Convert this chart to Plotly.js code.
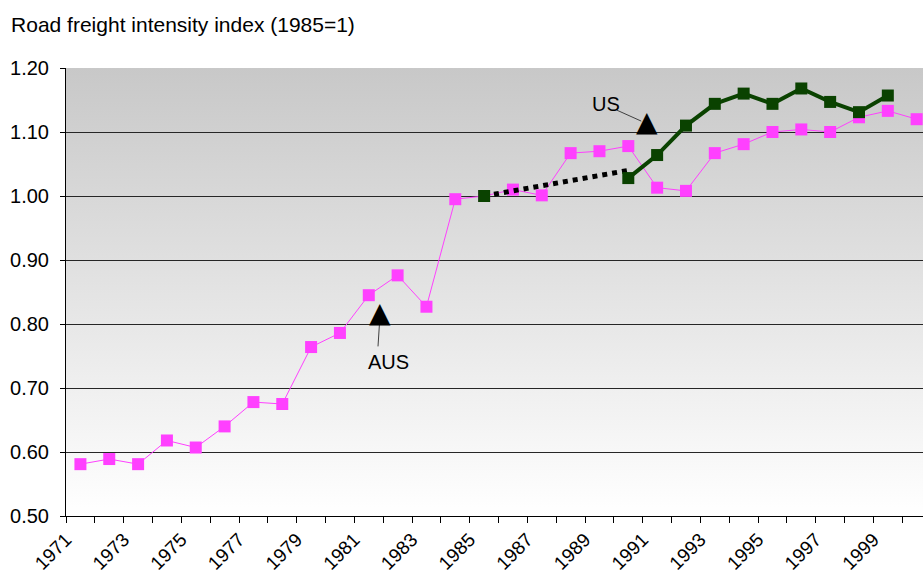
<!DOCTYPE html>
<html>
<head>
<meta charset="utf-8">
<script src="https://cdn.plot.ly/plotly-3.0.1.min.js"></script>
<style>
  html, body { margin: 0; padding: 0; background: #ffffff; }
  #chart { width: 923px; height: 577px; }
</style>
</head>
<body>
<div id="chart"></div>
<script>
// Road freight intensity index (1985=1)

const years = [1971, 1972, 1973, 1974, 1975, 1976, 1977, 1978, 1979, 1980,
               1981, 1982, 1983, 1984, 1985, 1986, 1987, 1988, 1989, 1990,
               1991, 1992, 1993, 1994, 1995, 1996, 1997, 1998, 1999, 2000];

const ausIndex = [0.581, 0.589, 0.581, 0.618, 0.607, 0.640, 0.678, 0.675, 0.764, 0.786,
                  0.845, 0.876, 0.827, 0.995, 1.000, 1.010, 1.001, 1.067, 1.070, 1.078,
                  1.013, 1.008, 1.067, 1.081, 1.100, 1.104, 1.100, 1.123, 1.133, 1.120];

// US series: 1985 base point, then 1990-1999
const usYears = [1985, 1990, 1991, 1992, 1993, 1994, 1995, 1996, 1997, 1998, 1999];
const usIndex = [1.000, 1.028, 1.064, 1.110, 1.144, 1.160, 1.144, 1.168, 1.147, 1.131, 1.157];

// dotted bridge between the 1985 base and the 1990 US figure
const bridgeYears = [1985, 1990];
const bridgeIndex = [1.000, 1.040];

const tickYears = [1971, 1973, 1975, 1977, 1979, 1981, 1983, 1985, 1987, 1989, 1991, 1993, 1995, 1997, 1999];
const tickLabels = ['1971', '1973', '1975', '1977', '1979', '1981', '1983', '1985', '1987', '1989', '1991', '1993', '1995', '1997', '1999'];

const yTicks = [0.5, 0.6, 0.7, 0.8, 0.9, 1.0, 1.1, 1.2];

function drawChart() {
    const font = 'Arial, "Liberation Sans", sans-serif';
    const pink = '#ff40ff';
    const green = '#0a4200';

    const ausTrace = {
        x: years,
        y: ausIndex,
        type: 'scatter',
        mode: 'lines+markers',
        name: 'AUS',
        line: { color: pink, width: 1 },
        marker: { symbol: 'square', size: 12, color: pink },
        hoverinfo: 'x+y'
    };

    const bridgeTrace = {
        x: bridgeYears,
        y: bridgeIndex,
        type: 'scatter',
        mode: 'lines',
        name: 'US (interpolated)',
        line: { color: '#000000', width: 5, dash: '5px,5px' },
        hoverinfo: 'skip'
    };

    const usTrace = {
        x: usYears.slice(1),
        y: usIndex.slice(1),
        type: 'scatter',
        mode: 'lines+markers',
        name: 'US',
        line: { color: green, width: 4 },
        marker: { symbol: 'square', size: 12, color: green },
        hoverinfo: 'x+y'
    };

    const usBaseTrace = {
        x: usYears.slice(0, 1),
        y: usIndex.slice(0, 1),
        type: 'scatter',
        mode: 'markers',
        name: 'US 1985',
        marker: { symbol: 'square', size: 12, color: green },
        hoverinfo: 'x+y'
    };

    // grey-to-white background of the plot area
    const gradSvg = '<svg xmlns="http://www.w3.org/2000/svg" width="10" height="100" preserveAspectRatio="none">' +
        '<defs><linearGradient id="g" x1="0" y1="0" x2="0" y2="1">' +
        '<stop offset="0" stop-color="#c8c8c8"/><stop offset="1" stop-color="#ffffff"/>' +
        '</linearGradient></defs><rect width="10" height="100" fill="url(#g)"/></svg>';

    const layout = {
        width: 923,
        height: 577,
        margin: { t: 68, b: 61, l: 66, r: 0 },
        paper_bgcolor: '#ffffff',
        plot_bgcolor: 'rgba(0,0,0,0)',
        showlegend: false,
        font: { family: font, size: 20, color: '#000000' },
        title: {
            text: 'Road freight intensity index (1985=1)',
            font: { family: font, size: 21, color: '#000000' },
            x: 0.012, xanchor: 'left', xref: 'container',
            y: 0.957, yanchor: 'middle', yref: 'container'
        },
        xaxis: {
            type: 'linear',
            range: [1970.5, 2000.22],
            tickmode: 'array',
            // labels sit at the left boundary of their year, as in the original
            tickvals: tickYears.map(function (y) { return y - 0.5; }),
            ticktext: tickLabels,
            tickangle: -45,
            ticks: '',
            ticklabelstandoff: 4,
            showgrid: false,
            zeroline: false,
            showline: true,
            linecolor: '#000000',
            linewidth: 1,
            minor: { dtick: 1, tick0: 1970.5, ticks: 'outside', ticklen: 6, tickcolor: '#000000', tickwidth: 1, showgrid: false },
            tickfont: { family: font, size: 19, color: '#000000' }
        },
        yaxis: {
            range: [0.5, 1.2],
            tickmode: 'array',
            tickvals: yTicks,
            tickformat: '.2f',
            ticks: 'outside',
            ticklen: 5,
            tickcolor: '#000000',
            ticklabelstandoff: 7,
            showgrid: true,
            gridcolor: '#262626',
            gridwidth: 1,
            zeroline: false,
            showline: true,
            linecolor: '#000000',
            linewidth: 1,
            tickfont: { family: font, size: 20, color: '#000000' }
        },
        images: [{
            source: 'data:image/svg+xml;charset=utf-8,' + encodeURIComponent(gradSvg),
            xref: 'paper', yref: 'paper',
            x: 0, y: 1, sizex: 1, sizey: 1,
            xanchor: 'left', yanchor: 'top',
            sizing: 'stretch',
            layer: 'below'
        }],
        shapes: [
            { type: 'line', xref: 'x', yref: 'y', x0: 1981.32, y0: 0.765, x1: 1981.37, y1: 0.800,
              line: { color: '#404040', width: 1 } },
            { type: 'line', xref: 'x', yref: 'y', x0: 1989.61, y0: 1.134, x1: 1990.45, y1: 1.117,
              line: { color: '#404040', width: 1 } }
        ],
        annotations: [
            { x: 1981.68, y: 0.741, xref: 'x', yref: 'y', text: 'AUS', showarrow: false,
              font: { family: font, size: 20, color: '#000000' } },
            { x: 1981.4, y: 0.818, xref: 'x', yref: 'y', text: '\u25B2', showarrow: false,
              font: { family: 'DejaVu Sans', size: 28, color: '#000000' } },
            { x: 1989.23, y: 1.143, xref: 'x', yref: 'y', text: 'US', showarrow: false,
              font: { family: font, size: 20, color: '#000000' } },
            { x: 1990.65, y: 1.117, xref: 'x', yref: 'y', text: '\u25B2', showarrow: false,
              font: { family: 'DejaVu Sans', size: 28, color: '#000000' } }
        ]
    };

    const config = { responsive: false, displayModeBar: false, staticPlot: true };
    Plotly.newPlot('chart', [ausTrace, bridgeTrace, usTrace, usBaseTrace], layout, config);
}

if (document.readyState === 'loading') {
    document.addEventListener('DOMContentLoaded', drawChart);
} else {
    drawChart();
}
</script>
</body>
</html>
